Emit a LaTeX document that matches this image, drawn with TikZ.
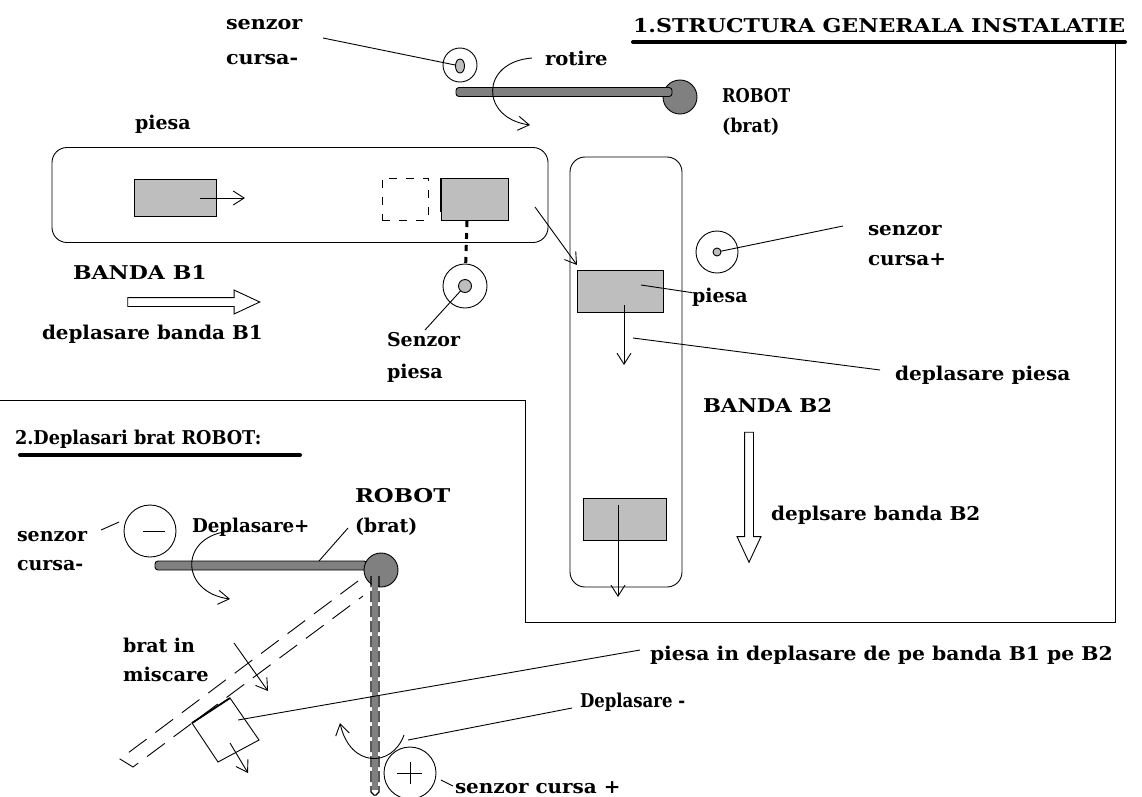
\documentclass[tikz,border=0pt]{standalone}
\usepackage{fontspec}
\setmainfont{DejaVu Serif}
\usetikzlibrary{arrows.meta,shapes.arrows,shapes.geometric}
\definecolor{partGray}{HTML}{BEBEBE}
\definecolor{armGray}{HTML}{808080}
\begin{document}
\begin{tikzpicture}[
          x=1pt,y=-1pt,line width=0.9pt,
          every node/.style={inner sep=0pt,outer sep=0pt},
          lab/.style={font=\fontsize{19pt}{30pt}\selectfont\bfseries,align=left,anchor=base west,transform shape,xscale=#1},
          lab/.default=1,
          barb/.style={-{Straight Barb[length=11pt,width=14pt]}},
          part/.style={draw,fill=partGray,minimum width=#1,minimum height=42pt},
          band/.style={draw,rounded corners=15pt},
          sensor/.style={draw,circle,minimum size=#1},
          dotcore/.style={draw,fill=partGray,ellipse,minimum size=#1},
          arm/.style={draw,fill=armGray,minimum height=9pt,minimum width=#1},
          hub/.style={draw,circle,fill=armGray,minimum size=34pt},
          hollow/.style={draw,fill=white,single arrow,inner sep=4pt,minimum height=#1,minimum width=23pt,single arrow head extend=7.5pt,single arrow tip angle=50},
          heavy/.style={line width=4pt,line cap=round},
        ]
        \useasboundingbox (0,0) rectangle (1142,796);
        \fill[white] (0,0) rectangle (1142,796);
        % frame
        \node[lab=1.163] (title) at (633,32) {1.STRUCTURA GENERALA INSTALATIE};
        \coordinate (f1) at (633,42);
        \coordinate (f2) at (1115,42);
        \coordinate (f3) at (1115,622);
        \coordinate (f4) at (525,622);
        \coordinate (f5) at (525,400);
        \coordinate (f6) at (0,400);
        \draw (f2) -- (f3) -- (f4) -- (f5) -- (f6);
        \draw[heavy] (f1) -- (1125,42);

        % robot, top
        \node[hub] (hub1) at (680,97) {};
        \node[arm=216pt,anchor=west,rounded corners=3pt] (arm1) at (456,92) {};
        \node[sensor=34pt] (s1) at (460,65) {};
        \node[dotcore=9pt,minimum height=14pt,minimum width=9pt] (s1c) at (460,66) {};
        \coordinate (s1e) at (323,38);
        \draw (s1e) -- (s1c);
        \node[lab=1.09] (s1l) at (226,29) {senzor};
        \node[lab=1.09] (s1m) at (226,64) {cursa-};
        \coordinate (r1) at (532,58);
        \coordinate (r2) at (530,125);
        \draw[barb] (r1) .. controls (480,62) and (480,118) .. (r2);
        \node[lab=1.03] (rot) at (545,65) {rotire};
        \node[lab=0.86] (rob1) at (722,102) {ROBOT};
        \node[lab=0.92] (rob2) at (722,132) {(brat)};

        % banda B1
        \node[band,minimum width=496pt,minimum height=95pt] (b1) at (300,195) {};
        \node[lab] (p1l) at (135,129) {piesa};
        \node[part=82pt,minimum height=37pt] (p1) at (175,198) {};
        \coordinate (p1a) at (200,198);
        \coordinate (p1b) at (245,198);
        \draw[barb] (p1a) -- (p1b);
        \node[draw,dash pattern=on 8pt off 9pt,minimum width=46pt,minimum height=42pt] (p0) at (405,199) {};
        \node[part=67pt] (p2) at (474.5,199) {};
        \draw[line width=2pt] (p2.north west) -- (p2.west |- 0,212);
        \node[sensor=44pt] (s2) at (465,286) {};
        \node[dotcore=13pt,circle] (s2c) at (465,286) {};
        \draw[line width=3pt,dash pattern=on 6pt off 6pt] (467,221) -- (s2);
        \node[lab] (s2l) at (387,346) {Senzor};
        \node[lab] (s2m) at (387,378) {piesa};
        \coordinate (s2e) at (425,330);
        \draw (s2e) -- (s2c);
        \node[lab=1.16] (b1l) at (73,279) {BANDA B1};
        \node[hollow=132pt,shape border rotate=0] (a1) at (189,302) {};
        \node[lab=1.047] (a1l) at (42,339) {deplasare banda B1};

        % banda B2
        \node[band,minimum width=112pt,minimum height=430pt] (b2) at (626,372) {};
        \node[part=86pt] (p3) at (620,291) {};
        \coordinate (p3a) at (535,207);
        \coordinate (p3b) at (577,265);
        \draw[barb] (p3a) -- (p3b);
        \node[lab] (p3l) at (692,302) {piesa};
        \coordinate (p3c) at (641,285);
        \draw (p3c) -- (p3l);
        \coordinate (p3d) at (624,305);
        \coordinate (p3f) at (624,365);
        \draw[barb] (p3d) -- (p3f);
        \node[part=83pt] (p4) at (624.5,519) {};
        \coordinate (p4a) at (618,505);
        \coordinate (p4b) at (618,597);
        \draw[barb] (p4a) -- (p4b);
        \node[sensor=42pt] (s3) at (717,252) {};
        \node[dotcore=8pt,circle] (s3c) at (717,252) {};
        \coordinate (s3e) at (843,226);
        \draw (s3c) -- (s3e);
        \node[lab=1.05] (s3l) at (868,235) {senzor};
        \node[lab=1.05] (s3m) at (868,265) {cursa+};
        \coordinate (d1) at (633,338);
        \node[lab=1.06] (d1l) at (895,380) {deplasare piesa};
        \coordinate (d2) at (880,370);
        \draw (d1) -- (d2);
        \node[lab=1.12] (b2l) at (703,412) {BANDA B2};
        \node[hollow=130pt,shape border rotate=270] (a2) at (749,492.5) {};
        \node[lab=1.055] (a2l) at (771,520) {deplsare banda B2};

        % deplasari brat
        \node[lab=0.93] (t2) at (15,444) {2.Deplasari brat ROBOT:};
        \coordinate (u1) at (20,455);
        \coordinate (u2) at (300,455);
        \draw[heavy] (u1) -- (u2);
        \node[arm=212pt,anchor=west,rounded corners=3pt] (arm2) at (155,565.5) {};
        \node[hub] (hub2) at (381,570) {};
        \node[sensor=52pt] (s4) at (150,531) {};
        \coordinate (s4a) at (143,531);
        \coordinate (s4b) at (165,531);
        \draw (s4a) -- (s4b);
        \coordinate (s4e) at (101,530);
        \coordinate (s4f) at (119,522);
        \draw (s4e) -- (s4f);
        \node[lab] (s4l) at (17,541) {senzor};
        \node[lab] (s4m) at (17,570) {cursa-};
        \node[lab=0.96] (dpl) at (192,532) {Deplasare+};
        \coordinate (r3) at (231,531);
        \coordinate (r4) at (230,599);
        \draw[barb] (r3) .. controls (179,535) and (179,592) .. (r4);
        \node[lab=1.2] (rob3) at (355,502) {ROBOT};
        \node[lab] (rob4) at (355,532) {(brat)};
        \coordinate (rb1) at (348,528);
        \coordinate (rb2) at (319,561);
        \draw (rb1) -- (rb2);

        % brat vertical
        \coordinate (v1) at (375,576);
        \coordinate (v2) at (375,790);
        \draw[armGray,line width=6pt] (v1) -- (v2);
        \draw[line width=1.2pt,dash pattern=on 11pt off 4pt] (371,576) -- (371,792) -- (375,796);
        \draw[line width=1.2pt,dash pattern=on 11pt off 4pt] (379,576) -- (379,792) -- (375,796);

        % brat in miscare
        \coordinate (m1) at (358,581);
        \coordinate (m2) at (120,759);
        \coordinate (m3) at (133,767);
        \coordinate (m4) at (363,596);
        \draw[dash pattern=on 22pt off 11pt] (m1) -- (m2) -- (m3) -- (m4);
        \node[lab] (ml) at (123,652) {brat in};
        \node[lab=1.02] (mm) at (123,681) {miscare};
        \coordinate (m5) at (234,643);
        \coordinate (m6) at (268,691);
        \draw[barb] (m5) -- (m6);
        \coordinate (c1) at (192,723);
        \coordinate (c2) at (230,698);
        \coordinate (c3) at (259,740);
        \coordinate (c4) at (218,762);
        \draw (c1) -- (c2) -- (c3) -- (c4) -- cycle;
        \draw[line width=1.8pt] (c1) -- (c2);
        \coordinate (c5) at (238,720);
        \node[lab=1.07] (pl) at (650,660) {piesa in deplasare de pe banda B1 pe B2};
        \coordinate (c6) at (640,650);
        \draw (c5) -- (c6);
        \coordinate (c7) at (230,743);
        \coordinate (c8) at (248,773);
        \draw[barb] (c7) -- (c8);

        % deplasare -
        \node[lab=0.87] (dm) at (580,707) {Deplasare -};
        \coordinate (e1) at (408,740);
        \coordinate (e2) at (572,708);
        \draw (e1) -- (e2);
        \coordinate (e3) at (404,735);
        \coordinate (e4) at (340,723);
        \draw[barb] (e3) .. controls (392,768) and (350,768) .. (e4);
        \node[sensor=52pt] (s5) at (410,773) {};
        \coordinate (s5a) at (397,773);
        \coordinate (s5b) at (422,773);
        \coordinate (s5c) at (410,762);
        \coordinate (s5d) at (410,784);
        \draw (s5a) -- (s5b);
        \draw (s5c) -- (s5d);
        \coordinate (s5e) at (441,780);
        \node[lab=1.05] (s5l) at (455,793) {senzor cursa +};
        \coordinate (s5f) at (453,786);
        \draw (s5e) -- (s5f);
      \end{tikzpicture}
\end{document}
